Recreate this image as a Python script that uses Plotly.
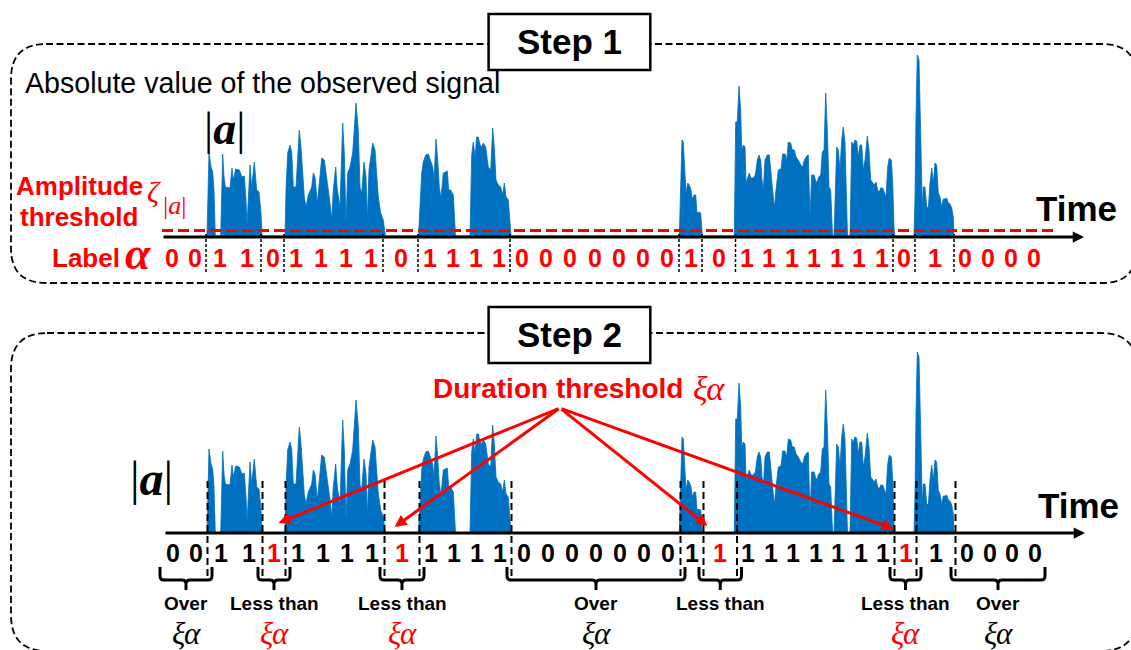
import plotly.graph_objects as go

W, H = 1131, 650
BLUE = "#0070C0"
RED = "#FF0000"
BLACK = "#000000"
SANS = "Liberation Sans, Arial, sans-serif"
SERIF = "Liberation Serif, Times New Roman, serif"

# ---------------- data ----------------
# |a| envelope of the observed signal (time in samples, amplitude in a.u.)
sig_time = [
    55, 57, 59, 60.7, 62, 63.3,
    68.7, 70.7, 72, 73.3, 78, 80, 81.3, 83.7, 87.3, 90, 92.3, 94, 95, 98, 99.7, 102.3, 104.7, 107, 109, 110,
    133, 134, 135.7, 138, 139.7, 141.3, 144, 147.3, 149, 150.7, 152.3, 154, 156.3, 159.7, 161.3, 163, 165.3,
    167.3, 169.7, 172.3, 174, 176.3, 178, 179.7, 181.3, 183.7, 185.3, 188, 190.7, 192.3, 194, 195.7, 198,
    200.7, 202.3, 204, 206.3, 208, 209.7, 212, 214, 215.3, 217, 218.7, 220.7, 223, 224.7, 226.3, 228.7,
    231.3, 233, 233.5,
    266.5, 267.3, 269.7, 271.3, 273.7, 276.3, 278.7, 280.7, 282, 284, 285.7, 287.3, 289, 291.3, 293.3, 295.3,
    296.7, 298.7, 301.3, 303, 303.5,
    318, 319.7, 321.3, 323, 324.7, 326.3, 328, 329.7, 331.3, 333.7, 336.3, 338.7, 340.7, 342.3, 344, 346.3,
    348.7, 350.7, 352.3, 354, 356.3, 358.7, 359,
    527.3, 528.7, 530, 531.3, 532.7, 534, 535.7, 537.3, 539, 540.3, 542, 543.7, 545, 547, 548.7, 550, 550.3,
    582.3, 583.7, 585.3, 587, 588.7, 589.7, 591.3, 593, 594, 595.7, 597.3, 599, 601.3, 603.3, 605.3, 607,
    608.7, 610, 611.3, 613, 615.3, 617.3, 619, 620.7, 622.3, 624, 626.3, 629, 630.7, 633, 634.7, 636.3,
    638.7, 640.3, 642.3, 644, 646.3, 648.7, 650.7, 652.3, 654.7, 656.3, 658, 659.7, 662, 664, 665.3, 666.7,
    668.7, 670.3, 672, 673.7, 675.3, 677, 678.7, 680, 680.7,
    682, 683, 684.7, 686.3, 688, 689.7, 691.3, 693, 694.7, 695.5,
    698, 699.7, 701.3, 703, 704.7, 706.3, 708, 709.7, 711.3, 713, 715.3, 717, 718.7, 720.7, 722.3, 724,
    725.7, 727.3, 728.7, 730.7, 732.3, 734, 735.7, 737.3, 739.3, 740.7, 742, 742.7,
    762, 763, 764, 765.3, 767, 768, 769, 770.3, 771.3, 773, 774.7, 776.3, 778, 779.7, 781.3, 783, 784.7,
    786.3, 788, 789.7, 791.3, 793, 794.7, 796.3, 798, 799.7, 801.3, 802,
]
sig_amp = [
    0, 84, 69, 64, 46, 0,
    0, 82, 59, 49, 48, 68, 56, 67, 66, 59, 60, 36, 10, 71, 49, 74, 46, 44, 23, 0,
    0, 46, 83, 91, 84, 49, 49, 106, 89, 56, 39, 29, 41, 49, 63, 59, 33,
    53, 78, 76, 64, 49, 33, 16, 46, 69, 46, 29, 113, 83, 13, 63, 69,
    83, 113, 133, 106, 48, 43, 74, 59, 16, 66, 79, 93, 86, 59, 39, 23,
    16, 3, 0,
    0, 20, 63, 74, 81, 82, 76, 69, 56, 97, 76, 49, 38, 63, 64, 65,
    46, 46, 41, 3, 0,
    0, 81, 94, 79, 99, 99, 91, 89, 93, 89, 69, 66, 108, 89, 56, 51,
    49, 41, 53, 39, 36, 6, 0,
    0, 53, 96, 94, 69, 43, 53, 51, 46, 36, 41, 41, 23, 24, 23, 4, 0,
    0, 114, 114, 150, 126, 86, 91, 89, 53, 59, 63, 58, 58, 61, 76, 81,
    76, 56, 46, 76, 81, 81, 63, 46, 28, 46, 66, 67, 82, 82, 76, 94,
    93, 86, 86, 79, 76, 71, 69, 76, 80, 81, 19, 61, 61, 54, 54, 59,
    61, 84, 86, 143, 106, 49, 46, 13, 0,
    0, 39, 89, 86, 66, 96, 109, 93, 13, 0,
    0, 94, 91, 96, 95, 79, 91, 91, 66, 76, 100, 86, 56, 53, 51, 54,
    46, 44, 48, 48, 44, 39, 69, 78, 76, 53, 9, 0,
    0, 39, 119, 181, 176, 129, 76, 29, 49, 49, 29, 28, 53, 68, 53, 73, 71,
    43, 39, 29, 37, 37, 38, 33, 32, 28, 19, 0,
]
axis_time = [10, 930]                 # extent of the time axis
threshold_time = [10, 906]            # amplitude threshold line extent
threshold_amp = 5.5                   # zeta_|a|
seg_bounds = [8, 54, 109, 132, 231, 266, 358, 527, 550, 583.5, 741, 763, 802, 893]
seg_frames = [2, 2, 1, 4, 1, 4, 7, 1, 1, 7, 1, 1, 4]
seg_alpha = [0, 1, 0, 1, 0, 1, 0, 1, 0, 1, 0, 1, 0]
xi_alpha = 2                           # duration threshold (frames)
show_xi = [True, True, True, True, False, True, True]  # symbol under each bracket

# ---------------- layout helpers ----------------
T0 = 152          # pixel of time 0
BASE1, BASE2 = 236, 533   # pixel rows of the two baselines

fig = go.Figure()
fig.add_trace(go.Scatter(x=[0, W], y=[0, H], mode="markers", marker=dict(opacity=0),
                         hoverinfo="skip", showlegend=False))
for yax in ["y2", "y3"]:
    fig.add_trace(go.Scatter(x=sig_time, y=sig_amp, xaxis="x2", yaxis=yax, mode="lines",
                             fill="tozeroy", fillcolor=BLUE, line=dict(color=BLUE, width=0.8),
                             hoverinfo="skip", showlegend=False))
fig.add_trace(go.Scatter(x=threshold_time, y=[threshold_amp] * 2, xaxis="x2", yaxis="y2",
                         mode="lines", line=dict(color=RED, width=3, dash="11px,5px"),
                         hoverinfo="skip", showlegend=False))

shapes = []
ann = []


def rrect(x0, y0, x1, y1, r):
    return (f"M{x0+r},{y0} L{x1-r},{y0} Q{x1},{y0} {x1},{y0+r} L{x1},{y1-r} Q{x1},{y1} {x1-r},{y1} "
            f"L{x0+r},{y1} Q{x0},{y1} {x0},{y1-r} L{x0},{y0+r} Q{x0},{y0} {x0+r},{y0} Z")


for (x0, y0, x1, y1, r) in [(11, 44, 1137, 283, 35), (11, 333, 1137, 651, 36)]:
    shapes.append(dict(type="path", path=rrect(x0, y0, x1, y1, r), xref="x", yref="y",
                       line=dict(color=BLACK, width=1.8, dash="7px,3.5px")))
for (y0, y1) in [(14, 70), (307, 363)]:
    shapes.append(dict(type="rect", x0=488.6, x1=650.3, y0=y0, y1=y1, xref="x", yref="y",
                       line=dict(color=BLACK, width=2.5), fillcolor="white"))


def text(x, y, s, size, color=BLACK, family=SANS, xref="x", yref="y", xanchor="center"):
    ann.append(dict(x=x, y=y, xref=xref, yref=yref, text=s, showarrow=False, xanchor=xanchor,
                    yanchor="middle", font=dict(size=size, color=color, family=family)))


def arrow(tail, head, color, width, size):
    ann.append(dict(x=head[0], y=head[1], ax=tail[0], ay=tail[1], xref="x", yref="y",
                    axref="x", ayref="y", text="", showarrow=True, arrowhead=2,
                    arrowsize=size, arrowwidth=width, arrowcolor=color, standoff=0))


# titles
text(569.5, 41, "<b>Step 1</b>", 35)
text(569.5, 334, "<b>Step 2</b>", 35)

# ---- Step 1 ----
text(262, 82.5, "Absolute value of the observed signal", 28.6)
text(224.5, 128, "|<b><i>a</i></b>|", 46, family=SERIF)
text(79, 186, "<b>Amplitude</b>", 26, RED)
text(78.5, 217, "<b>threshold</b>", 26, RED)
text(154, 191, "<i>ζ</i>", 30, RED, SERIF)
text(174.5, 205, "|<i>a</i>|", 26, RED, SERIF)
text(1076, 208, "<b>Time</b>", 35)
text(86, 257.5, "<b>Label</b>", 26, RED)
text(138.5, 253, "<b><i>α</i></b>", 46, RED, SERIF)
arrow((axis_time[0] + T0, BASE1 + 1), (axis_time[1] + T0 + 2, BASE1 + 1), BLACK, 3, 0.75)

# ---- Step 2 ----
text(151.5, 478, "|<b><i>a</i></b>|", 48, family=SERIF)
text(1078, 505, "<b>Time</b>", 35)
text(558, 388, "<b>Duration threshold</b>", 28, RED)
text(709, 388, "<i>ξα</i>", 34, RED, SERIF)
arrow((axis_time[0] + T0 + 2, BASE2), (axis_time[1] + T0 + 3, BASE2), BLACK, 3, 0.75)
for tip in [(278.6, 523), (394.6, 527), (707.5, 526), (894, 529)]:
    arrow((560, 408), tip, RED, 3, 0.8)

# segment labels and separators
step2_alpha = []
for k, a in enumerate(seg_alpha):
    short_gap = (a == 0 and seg_frames[k] < xi_alpha and 0 < k < len(seg_alpha) - 1
                 and seg_alpha[k - 1] == 1 and seg_alpha[k + 1] == 1)
    step2_alpha.append((1, True) if short_gap else (a, False))

for k in range(len(seg_frames)):
    b0, b1 = seg_bounds[k], seg_bounds[k + 1]
    n = seg_frames[k]
    w = (b1 - b0) / n
    for i in range(n):
        t = b0 + (i + 0.5) * w
        text(t, 257.5, f"<b>{seg_alpha[k]}</b>", 25, RED, xref="x2")
        v, changed = step2_alpha[k]
        text(t + 1.5, 553, f"<b>{v}</b>", 25, RED if changed else BLACK, xref="x2")

for b in seg_bounds[1:-1]:
    shapes.append(dict(type="line", x0=b, x1=b, y0=234, y1=273, xref="x2", yref="y",
                       line=dict(color=BLACK, width=1.5, dash="3px,2px")))
    shapes.append(dict(type="line", x0=b + 1.5, x1=b + 1.5, y0=481, y1=576, xref="x2", yref="y",
                       line=dict(color=BLACK, width=2, dash="7px,4px")))

# brackets under zero-segments
j = 0
for k, a in enumerate(seg_alpha):
    if a != 0:
        continue
    L = max(seg_bounds[k] - 3, seg_bounds[0])
    R = min(seg_bounds[k + 1] + 6, seg_bounds[-1])
    C = (L + R) / 2
    top, mid, bot, r = 567, 580, 590, 4
    path = (f"M{L},{top} L{L},{mid-r} Q{L},{mid} {L+r},{mid} L{C-r},{mid} Q{C},{mid} {C},{mid+r} "
            f"L{C},{bot} M{C},{mid+r} Q{C},{mid} {C+r},{mid} L{R-r},{mid} Q{R},{mid} {R},{mid-r} L{R},{top}")
    shapes.append(dict(type="path", path=path, xref="x2", yref="y",
                       line=dict(color=BLACK, width=3)))
    over = seg_frames[k] >= xi_alpha
    text(C, 603, "<b>Over</b>" if over else "<b>Less than</b>", 19, xref="x2")
    if show_xi[j]:
        text(C, 633, "<i>ξα</i>", 31, BLACK if over else RED, SERIF, xref="x2")
    j += 1

ax_common = dict(visible=False, showgrid=False, zeroline=False, fixedrange=True)
fig.update_layout(
    width=W, height=H, margin=dict(l=0, r=0, t=0, b=0, pad=0),
    paper_bgcolor="white", plot_bgcolor="rgba(0,0,0,0)", showlegend=False, hovermode=False,
    xaxis=dict(range=[0, W], domain=[0, 1], **ax_common),
    yaxis=dict(range=[H, 0], domain=[0, 1], **ax_common),
    xaxis2=dict(range=[-T0, W - T0], domain=[0, 1], anchor="y2", **ax_common),
    yaxis2=dict(range=[BASE1 - H, BASE1], domain=[0, 1], anchor="x2", **ax_common),
    yaxis3=dict(range=[BASE2 - H, BASE2], domain=[0, 1], anchor="x2", **ax_common),
    shapes=shapes, annotations=ann,
)
fig.write_html("out.html", config={"displayModeBar": False})
